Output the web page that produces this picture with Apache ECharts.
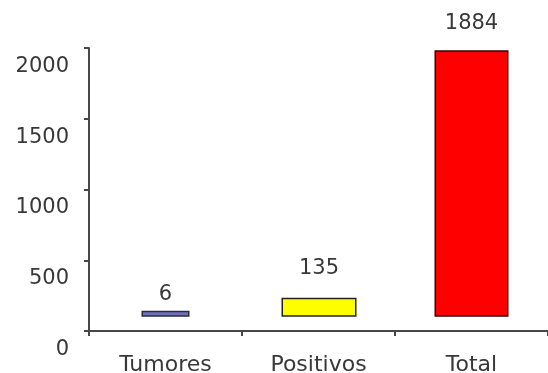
<!DOCTYPE html>
<html>
<head>
<meta charset="utf-8">
<script src="https://cdn.jsdelivr.net/npm/echarts@6/dist/echarts.min.js"></script>
<style>
  html, body { margin: 0; padding: 0; background: #fff; }
  #chart { width: 548px; height: 373px; }
</style>
</head>
<body>
<div id="chart"></div>
<script>
// Data
const categories = ['Tumores', 'Positivos', 'Total'];
const counts = [6, 135, 1884];
const yTicks = [0, 500, 1000, 1500, 2000];
// every bar sits on this value instead of the zero line
const barBase = 100;

// Per-bar appearance; the narrow bar uses its own (hidden) x axis so it stays centred
const barStyles = [
  { color: '#6f70b8', border: '#2a2a40', width: 48, labelGap: 6, axis: 1 },
  { color: '#ffff00', border: '#222222', width: 75, labelGap: 19, axis: 0 },
  { color: '#ff0000', border: '#3a0000', width: 74, labelGap: 16, axis: 0 }
];

const FONT = 'DejaVu Sans';
const TEXT = '#383838';
const AXIS = '#474747';

const series = [];
categories.forEach((cat, i) => {
  const st = barStyles[i];
  series.push({
    type: 'bar',
    xAxisIndex: st.axis,
    stack: 's' + i,
    barWidth: st.width,
    barGap: '-100%',
    silent: true,
    itemStyle: { color: 'rgba(0,0,0,0)' },
    data: categories.map((c, j) => (j === i ? barBase : '-'))
  });
  series.push({
    type: 'bar',
    xAxisIndex: st.axis,
    stack: 's' + i,
    barWidth: st.width,
    barGap: '-100%',
    barMinHeight: 6,
    itemStyle: { color: st.color, borderColor: st.border, borderWidth: 1.5 },
    label: {
      show: true,
      position: 'top',
      distance: st.labelGap,
      fontFamily: FONT,
      fontSize: 21,
      color: TEXT
    },
    data: categories.map((c, j) => (j === i ? counts[i] : '-'))
  });
});

const chart = echarts.init(document.getElementById('chart'), null, { renderer: 'canvas' });
chart.setOption({
  animation: false,
  backgroundColor: '#ffffff',
  grid: { left: 89, right: 0, top: 48, bottom: 42, containLabel: false, outerBoundsMode: 'none' },
  xAxis: [
    {
      type: 'category',
      data: categories,
      axisLine: { lineStyle: { color: AXIS, width: 2 } },
      axisTick: { show: true, length: 5, lineStyle: { color: AXIS, width: 2 } },
      axisLabel: { fontFamily: FONT, fontSize: 22, color: TEXT, margin: 23 }
    },
    {
      type: 'category',
      data: categories,
      position: 'bottom',
      show: false
    }
  ],
  yAxis: {
    type: 'value',
    min: yTicks[0],
    max: yTicks[yTicks.length - 1],
    interval: yTicks[1] - yTicks[0],
    splitLine: { show: false },
    axisLine: { show: true, lineStyle: { color: AXIS, width: 2 } },
    axisTick: { show: true, length: 5, lineStyle: { color: AXIS, width: 2 } },
    axisLabel: {
      fontFamily: FONT,
      fontSize: 21,
      color: TEXT,
      margin: 20,
      verticalAlign: 'top',
      padding: [8, 0, 0, 0],
      formatter: (v) => String(v)
    }
  },
  series: series
});
</script>
</body>
</html>
